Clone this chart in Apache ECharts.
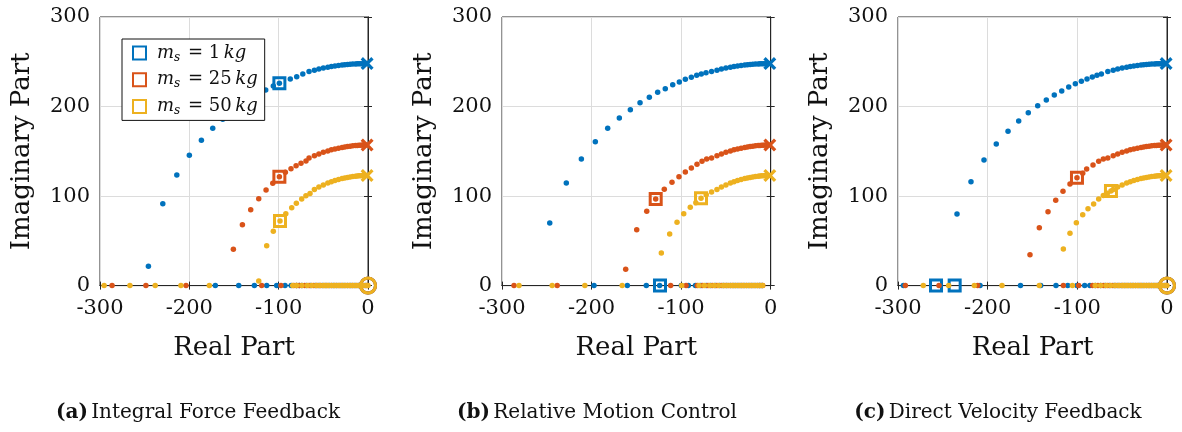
<!DOCTYPE html>
<html>
<head>
<meta charset="utf-8">
<script src="https://cdn.jsdelivr.net/npm/echarts@6/dist/echarts.min.js"></script>
<style>
html,body{margin:0;padding:0;background:#fff;}
#chart{width:1182px;height:432px;}
</style>
</head>
<body>
<div id="chart"></div>
<script>
// ---------- data ----------
const xTicks = [-300, -200, -100, 0];
const yTicks = [0, 100, 200, 300];
const massLabels = ['1', '25', '50'];
const captions = [['(a)', 'Integral Force Feedback'], ['(b)', 'Relative Motion Control'], ['(c)', 'Direct Velocity Feedback']];

// open-loop poles (crosses) per mass
const polesM = [[-1, 248], [-1, 157], [-1, 123]];
// zeros at origin (panels a and c)
const zeroPoint = [0, 0];

// dense points near the poles on the upper branches (shared by all panels)
const blueArcNear = [[-66,239.1],[-60,240.6],[-55,241.8],[-50,242.9],[-45,243.9],[-41,244.6],[-37,245.2],[-33,245.8],[-29,246.3],[-26,246.6],[-23,246.9],[-20,247.2],[-17,247.4],[-14,247.6],[-12,247.7],[-10,247.8],[-8,247.9],[-6,247.9],[-4,248],[-2,248]];
const orangeArcNear = [[-66,142.5],[-60,145.1],[-55,147.1],[-50,148.8],[-45,150.4],[-41,151.6],[-37,152.6],[-33,153.5],[-29,154.3],[-26,154.8],[-23,155.3],[-20,155.7],[-17,156.1],[-14,156.4],[-12,156.5],[-10,156.7],[-8,156.8],[-6,156.9],[-4,157],[-2,157]];
const yellowArcNear = [[-60,107.4],[-55,110],[-50,112.4],[-45,114.5],[-41,116],[-37,117.3],[-33,118.5],[-29,119.5],[-26,120.2],[-23,120.8],[-20,121.4],[-17,121.8],[-14,122.2],[-12,122.4],[-10,122.6],[-8,122.7],[-6,122.9],[-4,122.9],[-2,123]];

// dense real-axis points running to the origin (panels a, c)
const blueRealNear = [-86,-80,-74,-69,-64,-59,-55,-51,-47,-43,-39,-35,-31,-27,-23,-19,-15,-11,-7,-3];
const orangeRealNear = [-83,-77,-71,-66,-61,-57,-53,-49,-45,-41,-37,-33,-29,-25,-21,-17,-13,-9,-5,-1];
const yellowRealNear = [-80,-74,-68,-63,-58,-54,-50,-47,-44,-41,-38,-35,-32,-29,-26,-23,-20,-17,-14,-11,-8,-5,-2,0];
// dense real-axis points stopping near -9 (panel b)
const rmcBlueRealNear = [-84,-78,-72,-67,-62,-57,-53,-49,-45,-41,-37,-33,-29,-25,-21,-17,-13,-10];
const rmcOrangeRealNear = [-82,-76,-70,-65,-60,-55,-51,-47,-43,-39,-35,-31,-27,-23,-19,-15,-12,-9];
const rmcYellowRealNear = [-80,-74,-68,-63,-58,-53,-49,-45,-42,-39,-36,-33,-30,-27,-24,-21,-18,-15,-12,-9];

// (a) Integral Force Feedback
const iffArcM1 = [[-245.8,21.6],[-229.7,91.5],[-214,123.5],[-200,145.5],[-186.5,162.3],[-173.8,175.7],[-162.6,185.8],[-151,195],[-140,203],[-131,209],[-122,214],[-114.5,218.5],[-106,223],[-99.2,226],[-87,230.8],[-79.8,233.4],[-73,236.2]];
const iffArcM25 = [[-150.7,40.5],[-140.6,68],[-131.3,84.8],[-122.3,97],[-114.1,106.8],[-106.6,114.2],[-99.2,121.6],[-92.5,126.5],[-86.2,130.6],[-80.5,133.8],[-75,136.6],[-69.4,139.2]];
const iffArcM50 = [[-122.3,5.1],[-113.4,44.6],[-106,60.6],[-98.5,72.2],[-92,80.3],[-85.4,87],[-80.2,91.9],[-74.2,96.7],[-69.5,100.4],[-64.9,103]];
const iffRealM1 = [-170.9,-144.7,-127.2,-113.4,-102.2,-92.9,-76.9];
const iffRealM25 = [-286.5,-248.6,-203.7,-119,-97.4,-80];
const iffRealM50 = [-295.4,-266.5,-238.2,-209.4,-177.6,-84.3];
const iffSqM1 = [[-99.2,226]];
const iffSqM25 = [[-99.2,121.6]];
const iffSqM50 = [[-98.5,72.2]];

// (b) Relative Motion Control
const rmcArcM1 = [[-246.7,69.9],[-228.2,114.6],[-211.4,141.4],[-195.8,160.7],[-182,175.7],[-169,187.2],[-156.7,196.5],[-145.9,204.3],[-135.5,210.3],[-126.2,215.9],[-117.7,220],[-109.4,224.4],[-102,227.4],[-95.3,230.4],[-88.6,232.7],[-82.6,234.9],[-77.5,236.4],[-72.2,237.8]];
const rmcArcM25 = [[-161.9,18.2],[-149.6,62.5],[-138.4,83],[-128.4,96.7],[-118.8,107.5],[-110.2,115.4],[-102.4,121.6],[-95.3,126.9],[-88.6,131.4],[-82.3,135.5],[-76.7,138.8],[-71.5,141.4]];
const rmcArcM50 = [[-122.1,36.4],[-112.8,57.6],[-104.6,70.7],[-97.1,80.3],[-89.8,87.5],[-83.6,92.6],[-77.8,97.5],[-72,101.5],[-66,104.5]];
const rmcRealM1 = [-197.3,-160.1,-138.9,-124,-99.8,-92];
const rmcRealM25 = [-286.6,-238.4,-111.7,-94.5];
const rmcRealM50 = [-281,-244,-207.5,-165.8,-99.4];
const rmcSqM1 = [[-123.6,0]];
const rmcSqM25 = [[-128.4,96.7]];
const rmcSqM50 = [[-77.8,97.5]];

// (c) Direct Velocity Feedback
const dvfArcM1 = [[-234.2,80],[-218.6,116],[-204.1,140.3],[-190.4,158.2],[-177.3,172.4],[-165.4,183.9],[-154.7,193.1],[-144.2,201],[-134.6,207.3],[-125.7,212.9],[-117.4,217.4],[-109.6,221.8],[-102.2,225.5],[-95.5,228.2],[-89.2,230.8],[-83.3,233],[-78.1,234.9],[-73.2,236.4]];
const dvfArcM25 = [[-152.8,34.5],[-142.4,64.7],[-132.7,82.5],[-124.1,95.3],[-116,105.3],[-108.2,113.5],[-100.4,120.5],[-94,125.5],[-89.6,130.2],[-82.5,134.8],[-76.2,138.8],[-71,141.5]];
const dvfArcM50 = [[-115.6,40.9],[-108.2,58.4],[-101.1,70.3],[-94,79.2],[-88.1,85.9],[-81.8,91.1],[-76.2,96.7],[-71,100.5],[-66.5,103.2],[-62.5,105.7]];
const dvfRealM1 = [-294,-208.5,-163.4,-140.9,-123.8,-110.7,-100.4,-91.8];
const dvfRealM25 = [-291.8,-254.3,-211.1,-115.6,-98.5];
const dvfRealM50 = [-271.8,-243.5,-214.9,-184,-142.4,-105.5];
const dvfSqM1 = [[-257.6,0],[-236.8,0]];
const dvfSqM25 = [[-100.4,120.5]];
const dvfSqM50 = [[-62.5,105.7]];

// ---------- chart ----------
const COLORS = ['#0072BD', '#D95319', '#EDB120'];
const FONT = 'DejaVu Serif';
const AXC = '#262626';
const CROSS = 'path://M1.8,0 L5,3.2 L8.2,0 L10,1.8 L6.8,5 L10,8.2 L8.2,10 L5,6.8 L1.8,10 L0,8.2 L3.2,5 L0,1.8 Z';
const legendNames = massLabels.map(m => 'm' + m);

const panels = [
  { left: 100, width: 268, arcs: [iffArcM1, iffArcM25, iffArcM50], reals: [iffRealM1, iffRealM25, iffRealM50],
    realNears: [blueRealNear, orangeRealNear, yellowRealNear], squares: [iffSqM1, iffSqM25, iffSqM50], zero: true },
  { left: 502, width: 268.7, arcs: [rmcArcM1, rmcArcM25, rmcArcM50], reals: [rmcRealM1, rmcRealM25, rmcRealM50],
    realNears: [rmcBlueRealNear, rmcOrangeRealNear, rmcYellowRealNear], squares: [rmcSqM1, rmcSqM25, rmcSqM50], zero: false },
  { left: 898, width: 269, arcs: [dvfArcM1, dvfArcM25, dvfArcM50], reals: [dvfRealM1, dvfRealM25, dvfRealM50],
    realNears: [blueRealNear, orangeRealNear, yellowRealNear], squares: [dvfSqM1, dvfSqM25, dvfSqM50], zero: true }
];
const arcNears = [blueArcNear, orangeArcNear, yellowArcNear];

const grids = [], xAxes = [], yAxes = [], series = [];
const tickStyle = { fontFamily: FONT, fontSize: 21, color: '#111' };

panels.forEach((p, i) => {
  grids.push({ left: p.left, top: 17, width: p.width, height: 268.6, show: true, borderColor: AXC, borderWidth: 1, backgroundColor: '#fff' });
  const common = { gridIndex: i, type: 'value' };
  xAxes.push(Object.assign({}, common, {
    position: 'bottom', min: -300, max: 0, interval: 100,
    name: 'Real Part', nameLocation: 'middle', nameGap: 50,
    nameTextStyle: { fontFamily: FONT, fontSize: 26, color: '#111' },
    axisLine: { show: true, lineStyle: { color: AXC, width: 1 } },
    axisTick: { show: true, inside: true, length: 4, lineStyle: { color: AXC } },
    axisLabel: Object.assign({ show: true, margin: 12, showMinLabel: true, showMaxLabel: true,
      customValues: xTicks, formatter: v => String(v) }, tickStyle),
    splitLine: { show: true, lineStyle: { color: '#dcdcdc', width: 1 } }
  }));
  xAxes.push(Object.assign({}, common, {
    position: 'top', min: -300, max: 0, interval: 100,
    axisLine: { show: true, lineStyle: { color: AXC } },
    axisTick: { show: true, inside: true, length: 4, lineStyle: { color: AXC } },
    axisLabel: { show: false }, splitLine: { show: false }
  }));
  yAxes.push(Object.assign({}, common, {
    position: 'left', min: 0, max: 300, interval: 100,
    name: 'Imaginary Part', nameLocation: 'middle', nameGap: 65,
    nameTextStyle: { fontFamily: FONT, fontSize: 26, color: '#111' },
    axisLine: { show: true, lineStyle: { color: AXC, width: 1 } },
    axisTick: { show: true, inside: true, length: 4, lineStyle: { color: AXC } },
    axisLabel: Object.assign({ show: true, margin: 10, showMinLabel: true, showMaxLabel: true,
      customValues: yTicks, formatter: v => String(v) }, tickStyle),
    splitLine: { show: true, lineStyle: { color: '#dcdcdc', width: 1 } }
  }));
  yAxes.push(Object.assign({}, common, {
    position: 'right', min: 0, max: 300, interval: 100,
    axisLine: { show: true, lineStyle: { color: AXC } },
    axisTick: { show: true, inside: true, length: 4, lineStyle: { color: AXC } },
    axisLabel: { show: false }, splitLine: { show: false }
  }));

  for (let k = 0; k < 3; k++) {
    const ax = { xAxisIndex: 2 * i, yAxisIndex: 2 * i, silent: true, animation: false };
    const pts = p.arcs[k].concat(arcNears[k])
      .concat(p.reals[k].map(x => [x, 0]))
      .concat(p.realNears[k].map(x => [x, 0]));
    series.push(Object.assign({ type: 'scatter', data: pts, symbol: 'circle', symbolSize: 5.5,
      itemStyle: { color: COLORS[k], opacity: 1 } }, ax));
    series.push(Object.assign({ type: 'scatter', data: [polesM[k]], symbol: CROSS, symbolSize: 13,
      itemStyle: { color: COLORS[k], opacity: 1 } }, ax));
    if (p.zero) {
      series.push(Object.assign({ type: 'scatter', data: [zeroPoint], symbol: 'circle', symbolSize: 15,
        itemStyle: { color: 'rgba(0,0,0,0)', borderColor: COLORS[k], borderWidth: 3, opacity: 1 } }, ax));
    }
    series.push(Object.assign({ type: 'scatter', name: legendNames[k], data: p.squares[k], symbol: 'rect', symbolSize: 11,
      itemStyle: { color: 'rgba(0,0,0,0)', borderColor: COLORS[k], borderWidth: 3, opacity: 1 } }, ax));
  }
});

const graphics = captions.map((c, i) => ({
  type: 'text', x: [198, 597, 998][i], y: 413,
  style: {
    text: '{b|' + c[0] + '} {n|' + c[1] + '}',
    align: 'center', verticalAlign: 'middle',
    rich: {
      b: { fontFamily: FONT, fontSize: 20, fontWeight: 'bold', fill: '#111' },
      n: { fontFamily: FONT, fontSize: 20, fill: '#111' }
    }
  }
}));

const chart = echarts.init(document.getElementById('chart'), null, { renderer: 'canvas' });
chart.setOption({
  animation: false,
  backgroundColor: '#fff',
  grid: grids, xAxis: xAxes, yAxis: yAxes, series: series,
  graphic: graphics,
  legend: {
    data: legendNames, orient: 'vertical', left: 122, top: 39,
    backgroundColor: '#fff', borderColor: '#111', borderWidth: 1,
    padding: [3, 7, 3, 10], itemGap: 4.7, itemWidth: 13, itemHeight: 13,
    selectedMode: false,
    formatter: name => {
      const m = name.slice(1);
      return '{i|m}{s|s}{t| = ' + m + '\u2009}{i|kg}';
    },
    textStyle: {
      lineHeight: 22,
      rich: {
        i: { fontFamily: FONT, fontStyle: 'italic', fontSize: 18, color: '#111' },
        s: { fontFamily: FONT, fontStyle: 'italic', fontSize: 12, color: '#111', padding: [9, 2, 0, 0] },
        t: { fontFamily: FONT, fontSize: 18, color: '#111' }
      },
      padding: [0, 0, 0, 6]
    }
  }
});
</script>
</body>
</html>
